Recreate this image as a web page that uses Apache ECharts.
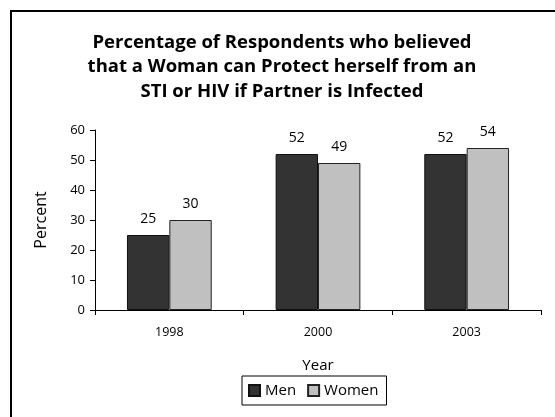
<!DOCTYPE html>
<html>
<head>
<meta charset="utf-8">
<script src="https://cdn.jsdelivr.net/npm/echarts@6/dist/echarts.min.js"></script>
<style>
  html, body { margin: 0; padding: 0; background: #fff; }
  #chart { width: 555px; height: 417px; }
</style>
</head>
<body>
<div id="chart"></div>
<script>
const years = ['1998', '2000', '2003'];
const men = [25, 52, 52];
const women = [30, 49, 54];
const yTicks = { min: 0, max: 60, interval: 10 };

const font = '"Open Sans", Lato, sans-serif';

const chart = echarts.init(document.getElementById('chart'), null, { renderer: 'canvas' });

const barLabel = {
    show: true,
    position: 'top',
    distance: 9,
    color: '#000',
    fontSize: 14,
    fontFamily: font,
};

chart.setOption({
    animation: false,
    textStyle: { fontFamily: font },
    title: {
        text: 'Percentage of Respondents who believed\nthat a Woman can Protect herself from an\nSTI or HIV if Partner is Infected',
        left: 277,
        textAlign: 'center',
        top: 25,
        textStyle: {
            fontSize: 18.5,
            fontWeight: 'bold',
            lineHeight: 24.5,
            color: '#000',
            fontFamily: font,
        },
    },
    graphic: [
        {
            type: 'polyline',
            shape: { points: [[11, 420], [11, 11], [556, 11]] },
            style: { stroke: '#000', lineWidth: 2, fill: null },
            silent: true,
        },
    ],
    legend: {
        bottom: 12,
        left: 242,
        itemWidth: 11,
        itemHeight: 11,
        itemGap: 11,
        padding: [7, 8, 7, 6],
        borderColor: '#000',
        borderWidth: 1,
        textStyle: { fontSize: 15, color: '#000', fontFamily: font, padding: [0, 0, 0, 0] },
        data: [
            { name: 'Men', icon: 'rect' },
            { name: 'Women', icon: 'rect' },
        ],
    },
    grid: { left: 95, right: 14, top: 130, bottom: 107 },
    xAxis: {
        type: 'category',
        data: years,
        name: 'Year',
        nameLocation: 'middle',
        nameGap: 48,
        nameTextStyle: { fontSize: 15, color: '#000', fontFamily: font },
        axisLine: { lineStyle: { color: '#000', width: 1 } },
        axisTick: { show: true, length: 5, inside: false, lineStyle: { color: '#000' } },
        axisLabel: { fontSize: 12.5, color: '#000', margin: 16, fontFamily: font },
    },
    yAxis: {
        type: 'value',
        min: yTicks.min,
        max: yTicks.max,
        interval: yTicks.interval,
        name: 'Percent',
        nameLocation: 'middle',
        nameGap: 46,
        nameRotate: 90,
        nameTextStyle: { fontSize: 16, color: '#000', fontFamily: font },
        splitLine: { show: false },
        axisLine: { show: true, lineStyle: { color: '#000', width: 1 } },
        axisTick: { show: true, length: 5, lineStyle: { color: '#000' } },
        axisLabel: { fontSize: 13, color: '#000', margin: 10, fontFamily: font },
    },
    series: [
        {
            name: 'Men',
            type: 'bar',
            data: men,
            barGap: '0%',
            barCategoryGap: '43%',
            itemStyle: { color: '#333333', borderColor: '#111', borderWidth: 1 },
            label: barLabel,
        },
        {
            name: 'Women',
            type: 'bar',
            data: women,
            itemStyle: { color: '#c0c0c0', borderColor: '#222', borderWidth: 1 },
            label: barLabel,
        },
    ],
});

window.addEventListener('resize', chart.resize);
</script>
</body>
</html>
